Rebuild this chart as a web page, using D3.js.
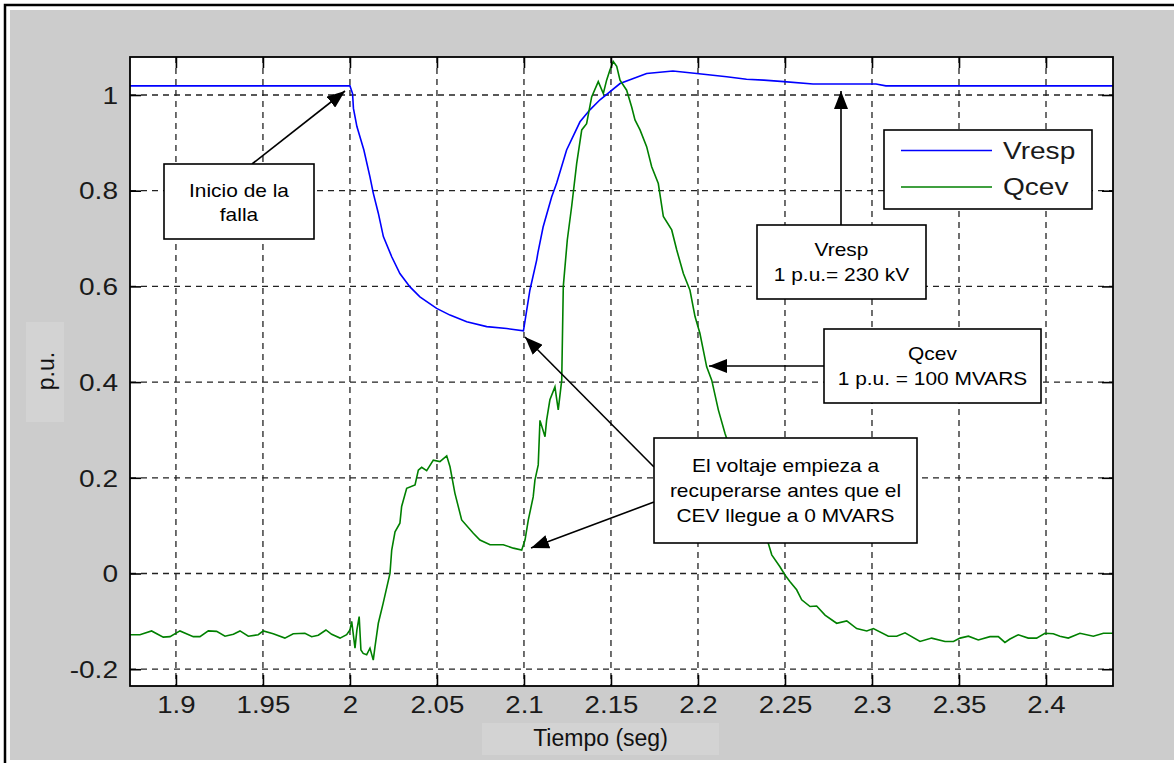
<!DOCTYPE html>
<html><head><meta charset="utf-8">
<script src="https://cdn.jsdelivr.net/npm/d3@7"></script>
<style>body{margin:0;background:#fff;} svg{display:block;}</style>
</head><body><svg id="c" width="1174" height="763"></svg>
<script>
// ---------- data ----------
const xTickValues = [1.9, 1.95, 2, 2.05, 2.1, 2.15, 2.2, 2.25, 2.3, 2.35, 2.4];
const xTickLabels = ["1.9", "1.95", "2", "2.05", "2.1", "2.15", "2.2", "2.25", "2.3", "2.35", "2.4"];
const yTickValues = [-0.2, 0, 0.2, 0.4, 0.6, 0.8, 1];
const yTickLabels = ["-0.2", "0", "0.2", "0.4", "0.6", "0.8", "1"];
const seriesNames = ["Vresp", "Qcev"];

const vrespTime = [1.8736, 2.0, 2.0015, 2.002, 2.004, 2.008, 2.0115, 2.0134, 2.0163, 2.0192, 2.024, 2.0287,
  2.0345, 2.0402, 2.0498, 2.0575, 2.0671, 2.0786, 2.0901, 2.0997, 2.1007, 2.1034, 2.1073, 2.108, 2.111,
  2.1159, 2.1188, 2.1245, 2.1322, 2.1379, 2.1437, 2.1552, 2.1705, 2.1856, 2.1993, 2.2165, 2.2279, 2.2378,
  2.2494, 2.2661, 2.2845, 2.3023, 2.308, 2.4385];
const vrespValue = [1.019, 1.019, 1.003, 0.972, 0.934, 0.885, 0.829, 0.795, 0.753, 0.704, 0.662, 0.627,
  0.599, 0.578, 0.554, 0.540, 0.526, 0.516, 0.512, 0.507, 0.530, 0.592, 0.655, 0.670, 0.724,
  0.787, 0.816, 0.885, 0.944, 0.969, 0.990, 1.024, 1.045, 1.050, 1.045, 1.038, 1.033, 1.031,
  1.028, 1.023, 1.023, 1.023, 1.019, 1.019];

const qcevTime = [1.8736, 1.8793, 1.886, 1.8927, 1.8966, 1.9023, 1.91, 1.9138, 1.9186, 1.9234, 1.9282, 1.933,
  1.9368, 1.9416, 1.9473, 1.9502, 1.9559, 1.9626, 1.9674, 1.9741, 1.978, 1.9818, 1.9862, 1.9895, 1.9943,
  1.9981, 2.0, 2.001, 2.0029, 2.004, 2.0053, 2.0063, 2.0076, 2.0096, 2.0115, 2.0134, 2.0144, 2.0163,
  2.0191, 2.023, 2.024, 2.0259, 2.0287, 2.0297, 2.0326, 2.0374, 2.0393, 2.0412, 2.0441, 2.0479, 2.0517,
  2.0556, 2.0575, 2.0603, 2.0642, 2.0709, 2.0747, 2.0805, 2.0881, 2.0939, 2.0987, 2.1006, 2.1025, 2.1053,
  2.1063, 2.1082, 2.1092, 2.1121, 2.113, 2.1149, 2.1178, 2.1197, 2.1217, 2.1226, 2.1249, 2.1274, 2.1303,
  2.1332, 2.136, 2.1389, 2.1427, 2.1456, 2.1475, 2.1494, 2.1513, 2.1533, 2.1552, 2.159, 2.1619, 2.1638,
  2.1667, 2.1705, 2.1734, 2.1772, 2.1801, 2.1849, 2.1878, 2.1916, 2.1954, 2.1983, 2.2011, 2.205, 2.2079,
  2.2117, 2.2155, 2.224, 2.233, 2.2404, 2.2424, 2.2471, 2.25, 2.2529, 2.2567, 2.2596, 2.2644, 2.2682,
  2.273, 2.2797, 2.2855, 2.2912, 2.297, 2.3008, 2.3094, 2.3142, 2.319, 2.3276, 2.3343, 2.342, 2.3468,
  2.3506, 2.3554, 2.3611, 2.3678, 2.3726, 2.3764, 2.3793, 2.3841, 2.3898, 2.3946, 2.3994, 2.4042, 2.408,
  2.4128, 2.4195, 2.4272, 2.433, 2.4385];
const qcevValue = [-0.128, -0.128, -0.120, -0.133, -0.132, -0.120, -0.132, -0.132, -0.120, -0.121, -0.131, -0.127,
  -0.120, -0.131, -0.128, -0.120, -0.126, -0.135, -0.126, -0.125, -0.132, -0.129, -0.118, -0.127, -0.135,
  -0.128, -0.118, -0.100, -0.156, -0.118, -0.090, -0.160, -0.167, -0.170, -0.156, -0.181, -0.153, -0.104,
  -0.062, 0.000, 0.049, 0.087, 0.105, 0.140, 0.178, 0.185, 0.216, 0.222, 0.215, 0.237, 0.234,
  0.246, 0.223, 0.168, 0.112, 0.084, 0.070, 0.060, 0.060, 0.053, 0.049, 0.070, 0.112, 0.160,
  0.195, 0.227, 0.320, 0.286, 0.320, 0.363, 0.390, 0.342, 0.404, 0.600, 0.697, 0.767, 0.857,
  0.927, 0.940, 0.996, 1.028, 1.003, 1.031, 1.052, 1.070, 1.060, 1.031, 1.010, 0.975, 0.948,
  0.927, 0.892, 0.850, 0.815, 0.746, 0.718, 0.676, 0.627, 0.592, 0.537, 0.502, 0.432, 0.404,
  0.342, 0.293, 0.200, 0.120, 0.063, 0.039, 0.014, -0.003, -0.017, -0.034, -0.055, -0.069, -0.068,
  -0.087, -0.104, -0.099, -0.115, -0.120, -0.115, -0.131, -0.131, -0.124, -0.142, -0.135, -0.142, -0.142,
  -0.135, -0.131, -0.139, -0.132, -0.132, -0.144, -0.137, -0.128, -0.135, -0.135, -0.125, -0.126, -0.131,
  -0.135, -0.125, -0.131, -0.125, -0.125];

// annotations: text lines
const noteInicio = ["Inicio de la", "falla"];
const noteVresp = ["Vresp", "1 p.u.= 230 kV"];
const noteQcev = ["Qcev", "1 p.u. = 100 MVARS"];
const noteVoltaje = ["El voltaje empieza a", "recuperarse antes que el", "CEV llegue a 0 MVARS"];
const xLabel = "Tiempo (seg)";
const yLabel = "p.u.";

// ---------- drawing ----------
const W = 1174, H = 763;
const M = {left: 130, top: 57, right: 1113, bottom: 686};
const FONT = "'Liberation Sans', Arial, sans-serif";
const svg = d3.select("#c");

function stretch(sel, k) {
  sel.each(function () {
    const w = this.getComputedTextLength();
    d3.select(this).attr("textLength", w * k).attr("lengthAdjust", "spacingAndGlyphs");
  });
}

svg.append("rect").attr("width", W).attr("height", H).attr("fill", "#fff");
svg.append("rect").attr("x", 10).attr("y", 10).attr("width", W - 10).attr("height", 750).attr("fill", "#cccccc");
svg.append("path").attr("d", "M5,763 V5 H1174").attr("stroke", "#000").attr("stroke-width", 2.5).attr("fill", "none");

const x = d3.scaleLinear().domain([1.8736, 2.4385]).range([M.left, M.right]);
const y = d3.scaleLinear().domain([-0.2351, 1.0794]).range([M.bottom, M.top]);
const pw = M.right - M.left, ph = M.bottom - M.top;

// plot background
svg.append("rect").attr("x", M.left).attr("y", M.top).attr("width", pw).attr("height", ph).attr("fill", "#fff");

// grid
const grid = svg.append("g");
grid.selectAll("line.v").data(xTickValues).join("line")
  .attr("x1", d => x(d)).attr("x2", d => x(d)).attr("y1", M.top).attr("y2", M.bottom)
  .attr("stroke", "#222").attr("stroke-width", 1.3).attr("stroke-dasharray", "6,5");
grid.selectAll("line.h").data(yTickValues).join("line")
  .attr("x1", M.left).attr("x2", M.right).attr("y1", d => y(d)).attr("y2", d => y(d))
  .attr("stroke", "#222").attr("stroke-width", 1.3).attr("stroke-dasharray", "6,5");

// data lines
svg.append("clipPath").attr("id", "clip").append("rect")
  .attr("x", M.left).attr("y", M.top).attr("width", pw).attr("height", ph);
const lineGen = d3.line().x(d => x(d[0])).y(d => y(d[1]));
const vrespData = vrespTime.map((t, i) => [t, vrespValue[i]]);
const qcevData = qcevTime.map((t, i) => [t, qcevValue[i]]);
const dataG = svg.append("g").attr("clip-path", "url(#clip)");
dataG.append("path").datum(vrespData).attr("d", lineGen).attr("fill", "none")
  .attr("stroke", "#0000ff").attr("stroke-width", 1.6);
dataG.append("path").datum(qcevData).attr("d", lineGen).attr("fill", "none")
  .attr("stroke", "#008000").attr("stroke-width", 1.6);

// axes (inward ticks on all four sides)
const TL = 11;
const fmtX = (d, i) => xTickLabels[i];
const fmtY = (d, i) => yTickLabels[i];
const axB = svg.append("g").attr("transform", `translate(0,${M.bottom})`)
  .call(d3.axisBottom(x).tickValues(xTickValues).tickFormat(fmtX).tickSizeInner(-TL).tickSizeOuter(0).tickPadding(0));
const axT = svg.append("g").attr("transform", `translate(0,${M.top})`)
  .call(d3.axisTop(x).tickValues(xTickValues).tickFormat("").tickSizeInner(-TL).tickSizeOuter(0));
const axL = svg.append("g").attr("transform", `translate(${M.left},0)`)
  .call(d3.axisLeft(y).tickValues(yTickValues).tickFormat(fmtY).tickSizeInner(-TL).tickSizeOuter(0).tickPadding(0));
const axR = svg.append("g").attr("transform", `translate(${M.right},0)`)
  .call(d3.axisRight(y).tickValues(yTickValues).tickFormat("").tickSizeInner(-TL).tickSizeOuter(0));
[axB, axT, axL, axR].forEach(a => {
  a.select(".domain").remove();
  a.selectAll(".tick line").attr("stroke", "#000").attr("stroke-width", 1.6);
});
axB.selectAll(".tick text").attr("font-family", FONT).attr("font-size", 23).attr("fill", "#1a1a1a")
  .attr("y", 0).attr("dy", 0).attr("transform", "translate(0,27)");
axL.selectAll(".tick text").attr("font-family", FONT).attr("font-size", 23).attr("fill", "#1a1a1a")
  .attr("x", -12).attr("dy", "0.36em");
stretch(axB.selectAll(".tick text"), 1.2);
stretch(axL.selectAll(".tick text"), 1.22);

// plot frame
svg.append("rect").attr("x", M.left).attr("y", M.top).attr("width", pw).attr("height", ph)
  .attr("fill", "none").attr("stroke", "#000").attr("stroke-width", 1.8);

// axis labels with light boxes
svg.append("rect").attr("x", 482).attr("y", 723).attr("width", 237).attr("height", 32).attr("fill", "#d3d3d3");
svg.append("text").attr("x", 600.5).attr("y", 746).attr("text-anchor", "middle")
  .attr("font-family", FONT).attr("font-size", 23).attr("fill", "#111").text(xLabel);
svg.append("rect").attr("x", 26).attr("y", 322).attr("width", 38).attr("height", 100).attr("fill", "#d3d3d3");
svg.append("text").attr("transform", "translate(47,371) rotate(-90)").attr("text-anchor", "middle")
  .attr("dy", "0.3em").attr("font-family", FONT).attr("font-size", 23).attr("fill", "#111").text(yLabel);

// legend
const lg = svg.append("g");
lg.append("rect").attr("x", 884).attr("y", 130).attr("width", 208).attr("height", 79)
  .attr("fill", "#fff").attr("stroke", "#000").attr("stroke-width", 1.6);
const legColors = ["#0000ff", "#008000"];
const legY = [150.5, 187];
seriesNames.forEach((n, i) => {
  lg.append("line").attr("x1", 901).attr("x2", 992).attr("y1", legY[i]).attr("y2", legY[i])
    .attr("stroke", legColors[i]).attr("stroke-width", 1.6);
  const t = lg.append("text").attr("x", 1003).attr("y", legY[i]).attr("dy", "0.36em")
    .attr("font-family", FONT).attr("font-size", 23).attr("fill", "#1a1a1a").text(n);
  stretch(t, 1.22);
});

// arrow marker
svg.append("defs").append("marker").attr("id", "ah").attr("markerUnits", "userSpaceOnUse")
  .attr("markerWidth", 20).attr("markerHeight", 14).attr("refX", 18).attr("refY", 7).attr("orient", "auto")
  .append("path").attr("d", "M0,0 L18,7 L0,14 Z").attr("fill", "#000");

function arrow(x1, y1, x2, y2) {
  svg.append("line").attr("x1", x1).attr("y1", y1).attr("x2", x2).attr("y2", y2)
    .attr("stroke", "#000").attr("stroke-width", 1.6).attr("marker-end", "url(#ah)");
}
function note(x0, y0, w, h, lines, cy0) {
  const g = svg.append("g");
  g.append("rect").attr("x", x0).attr("y", y0).attr("width", w).attr("height", h)
    .attr("fill", "#fff").attr("stroke", "#000").attr("stroke-width", 1.6);
  lines.forEach((l, i) => {
    const t = g.append("text").attr("x", x0 + w / 2).attr("y", cy0 + i * 24.7).attr("dy", "0.35em")
      .attr("text-anchor", "middle").attr("font-family", FONT).attr("font-size", 19).attr("fill", "#000").text(l);
    stretch(t, 1.1);
  });
}

arrow(252, 164, 345, 91);
arrow(841, 225, 841, 91);
arrow(824, 366, 709, 366);
arrow(654, 467, 525, 337);
arrow(654, 502, 531, 548);

note(164, 164, 150, 75, noteInicio, 190);
note(757, 225, 169, 74, noteVresp, 249.5);
note(824, 329, 217, 74, noteQcev, 353.5);
note(654, 438, 263, 105, noteVoltaje, 465.7);
</script>
</body></html>
